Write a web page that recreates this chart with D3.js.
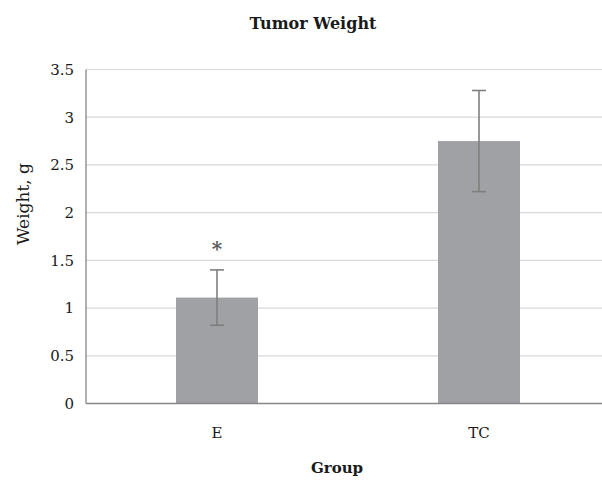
<!DOCTYPE html>
<html>
<head>
<meta charset="utf-8">
<script src="https://cdn.jsdelivr.net/npm/d3@7"></script>
<style>
  body { margin: 0; background: #fff; }
  svg { display: block; }
  text { font-family: "DejaVu Serif", serif; fill: #1a1a1a; }
</style>
</head>
<body>
<div id="chart"></div>
<script>
// values
var groups = ["E", "TC"];
var means = [1.11, 2.75];
var errs = [0.29, 0.53];
var marks = ["*", ""];
var yTicks = [0, 0.5, 1, 1.5, 2, 2.5, 3, 3.5];

var width = 602, height = 480;
var plotLeft = 86, plotRight = 610, plotTop = 69.5, plotBottom = 403.5;

var svg = d3.select("#chart").append("svg")
    .attr("width", width)
    .attr("height", height);

var y = d3.scaleLinear().domain([0, 3.5]).range([plotBottom, plotTop]);
var x = d3.scaleBand().domain(groups).range([plotLeft, plotRight])
    .paddingInner(0.687).paddingOuter(0.3435);

// gridlines
svg.append("g").selectAll("line").data(yTicks.filter(function(d) { return d > 0; }))
    .enter().append("line")
    .attr("x1", plotLeft).attr("x2", width)
    .attr("y1", function(d) { return y(d); })
    .attr("y2", function(d) { return y(d); })
    .attr("stroke", "#d9d9d9").attr("stroke-width", 1.2);

// y tick labels
var yAxis = svg.append("g")
    .attr("transform", "translate(" + plotLeft + ",0)")
    .call(d3.axisLeft(y).tickValues(yTicks).tickSize(0).tickPadding(12)
        .tickFormat(function(d) { return d; }));
yAxis.select(".domain").remove();
yAxis.selectAll("text")
    .style("font-family", "DejaVu Serif")
    .style("font-size", "15px")
    .attr("fill", "#1a1a1a");

// bars
var vals = groups.map(function(g, i) { return { g: g, m: means[i], e: errs[i], s: marks[i] }; });

svg.append("g").selectAll("rect").data(vals)
    .enter().append("rect")
    .attr("x", function(d) { return x(d.g); })
    .attr("y", function(d) { return y(d.m); })
    .attr("width", x.bandwidth())
    .attr("height", function(d) { return y(0) - y(d.m); })
    .attr("fill", "#a0a1a5");

// error bars
var eb = svg.append("g").selectAll("g").data(vals).enter().append("g")
    .attr("stroke", "#7f7f7f").attr("stroke-width", 1.6);
eb.append("line")
    .attr("x1", function(d) { return x(d.g) + x.bandwidth() / 2; })
    .attr("x2", function(d) { return x(d.g) + x.bandwidth() / 2; })
    .attr("y1", function(d) { return y(d.m + d.e); })
    .attr("y2", function(d) { return y(d.m - d.e); });
eb.selectAll(".cap").data(function(d) { return [[d, d.m + d.e], [d, d.m - d.e]]; })
    .enter().append("line")
    .attr("x1", function(d) { return x(d[0].g) + x.bandwidth() / 2 - 7; })
    .attr("x2", function(d) { return x(d[0].g) + x.bandwidth() / 2 + 7; })
    .attr("y1", function(d) { return y(d[1]); })
    .attr("y2", function(d) { return y(d[1]); });

// significance mark
svg.append("g").selectAll("text").data(vals)
    .enter().append("text")
    .attr("x", function(d) { return x(d.g) + x.bandwidth() / 2; })
    .attr("y", function(d) { return y(d.m + d.e) - 14; })
    .attr("text-anchor", "middle")
    .style("font-size", "20px")
    .style("font-weight", "bold")
    .style("fill", "#5a5a5a")
    .text(function(d) { return d.s; });

// axis lines
svg.append("line")
    .attr("x1", plotLeft).attr("x2", plotLeft).attr("y1", plotTop).attr("y2", plotBottom)
    .attr("stroke", "#868686").attr("stroke-width", 1.3);
svg.append("line")
    .attr("x1", plotLeft).attr("x2", width).attr("y1", plotBottom).attr("y2", plotBottom)
    .attr("stroke", "#868686").attr("stroke-width", 1.3);

// x labels
svg.append("g").selectAll("text").data(groups)
    .enter().append("text")
    .attr("x", function(d) { return x(d) + x.bandwidth() / 2; })
    .attr("y", 438)
    .attr("text-anchor", "middle")
    .style("font-size", "15px")
    .text(function(d) { return d; });

// titles
svg.append("text")
    .attr("x", 313).attr("y", 29)
    .attr("text-anchor", "middle")
    .style("font-size", "16px").style("font-weight", "bold")
    .text("Tumor Weight");

svg.append("text")
    .attr("x", 337).attr("y", 473)
    .attr("text-anchor", "middle")
    .style("font-size", "15px").style("font-weight", "bold")
    .text("Group");

svg.append("text")
    .attr("transform", "translate(29,204) rotate(-90)")
    .attr("text-anchor", "middle")
    .style("font-size", "17px")
    .text("Weight, g");
</script>
</body>
</html>
